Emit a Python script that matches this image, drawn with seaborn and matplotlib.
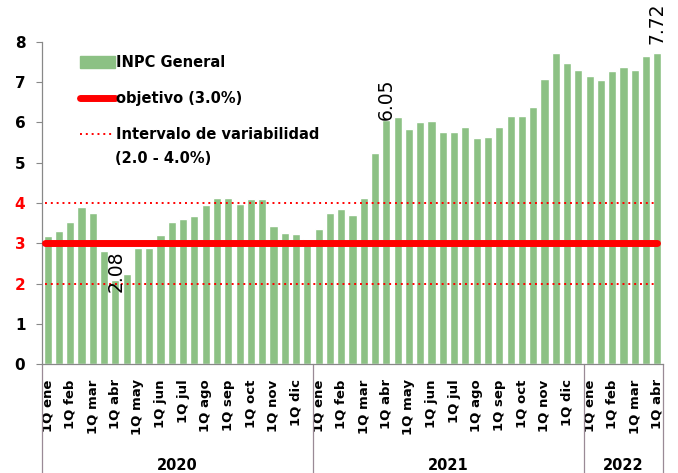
import matplotlib
matplotlib.use('Agg')
import matplotlib.pyplot as plt
import matplotlib.patches as mpatches
from matplotlib.lines import Line2D
import numpy as np
import pandas as pd
import seaborn as sns

# datos: inflacion general anual por quincena (%)
meses = ['ene', 'feb', 'mar', 'abr', 'may', 'jun', 'jul', 'ago', 'sep', 'oct', 'nov', 'dic']
anios = ['2020', '2021', '2022']
quincenas_por_anio = [24, 24, 7]
inpc = [3.18, 3.30, 3.54, 3.89, 3.74, 2.80, 2.08, 2.23, 2.87, 2.89, 3.20, 3.53,
        3.60, 3.68, 3.95, 4.12, 4.12, 3.97, 4.10, 4.10, 3.44, 3.25, 3.22, 3.11,
        3.36, 3.75, 3.85, 3.70, 4.13, 5.25, 6.05, 6.13, 5.83, 6.00, 6.04, 5.76,
        5.76, 5.88, 5.61, 5.63, 5.90, 6.15, 6.15, 6.38, 7.08, 7.73, 7.49, 7.30,
        7.15, 7.05, 7.27, 7.37, 7.31, 7.66, 7.72]
objetivo = 3.0
intervalo = [2.0, 4.0]
etiquetas_valor = {6: '2.08', 30: '6.05', 54: '7.72'}

# periodos con nombre unico
periodos = []
for anio, n in zip(anios, quincenas_por_anio):
    for i in range(n):
        periodos.append(f"{i % 2 + 1}Q {meses[i // 2]} {anio}")
df = pd.DataFrame({'periodo': periodos, 'inpc': inpc})

verde = '#8cc184'
rojo = '#ff0000'

sns.set_style('white')
plt.rcParams['font.family'] = ['DejaVu Sans']
plt.rcParams['font.weight'] = 'bold'
plt.rcParams['text.color'] = 'black'
plt.rcParams['xtick.color'] = 'black'
plt.rcParams['ytick.color'] = 'black'

fig = plt.figure(figsize=(6.78, 4.73), dpi=100)
ax = fig.add_axes([42 / 678, 1 - 364 / 473, (663 - 42) / 678, (364 - 42) / 473])

sns.barplot(data=df, x='periodo', y='inpc', order=periodos, color=verde,
            saturation=1, width=0.72, ax=ax)

n = len(periodos)
ax.set_xlim(-0.5, n - 0.5)
ax.set_ylim(0, 8)

ax.axhline(objetivo, color=rojo, lw=5, zorder=3, xmin=0.005, xmax=0.99)
for v in intervalo:
    ax.axhline(v, color=rojo, lw=1.4, ls=(0, (1, 2.0)), zorder=3, xmin=0.005, xmax=0.985)

# etiquetas de valor
ax.text(6.1, 2.3, etiquetas_valor[6], rotation=90, ha='center', va='center',
        fontsize=13.5, fontweight='normal', zorder=4)
ax.text(30, 6.07, etiquetas_valor[30], rotation=90, ha='center', va='bottom',
        fontsize=13.5, fontweight='normal', zorder=4)
ax.text(54, 7.95, etiquetas_valor[54], rotation=90, ha='center', va='bottom',
        fontsize=13.5, fontweight='normal', zorder=4, clip_on=False)

# eje y
ax.set_yticks(range(0, 9))
ax.tick_params(axis='y', labelsize=11, length=4, width=0.8, color='#888888', pad=8, left=True)
for t in ax.get_yticklabels():
    if t.get_text() in ('2', '3', '4'):
        t.set_color(rojo)

# eje x: solo la primera quincena de cada mes
pos = list(range(0, n, 2))
ax.set_xticks(pos)
ax.set_xticklabels([' '.join(periodos[i].split()[:2]) for i in pos], rotation=90,
                   fontsize=9.5, va='top', ha='center')
ax.tick_params(axis='x', length=0, pad=11)
ax.set_xlabel('')
ax.set_ylabel('')

for s in ['top', 'right']:
    ax.spines[s].set_visible(False)
for s in ['left', 'bottom']:
    ax.spines[s].set_color('#888888')
    ax.spines[s].set_linewidth(0.9)

# separadores de anios y etiquetas
trans = ax.get_xaxis_transform()
limites = [-0.5] + list(np.cumsum(quincenas_por_anio) - 0.5)
for b in limites:
    ax.plot([b, b], [0, -0.36], color='#9a8a96', lw=0.9, transform=trans, clip_on=False)
for i, anio in enumerate(anios):
    centro = (limites[i] + limites[i + 1]) / 2
    ax.text(centro, -0.315, anio, transform=trans, ha='center', va='center', fontsize=10.5)

# leyenda
handles = [mpatches.Patch(color=verde),
           Line2D([0], [0], color=rojo, lw=5),
           Line2D([0], [0], color=rojo, lw=1.4, ls=(0, (1, 2.0)))]
textos = ['INPC General', 'objetivo (3.0%)', 'Intervalo de variabilidad']
leg = ax.legend(handles, textos, loc='upper left', bbox_to_anchor=(0.04, 1.0),
                frameon=False, fontsize=10.5, handlelength=2.4, handletextpad=0.1,
                labelspacing=1.45, handleheight=0.9)
ax.text((115 - 42) / 621, (364 - 158) / 322, '(2.0 - 4.0%)', transform=ax.transAxes,
        ha='left', va='center', fontsize=10.5)

# titulo cortado en la parte superior (solo asoma el borde inferior)
fig.text(316 / 678, 1 + 1 / 473, '(variación porcentual anual)', ha='center', va='bottom',
         fontsize=11)

fig.savefig('out.png', dpi=100)
